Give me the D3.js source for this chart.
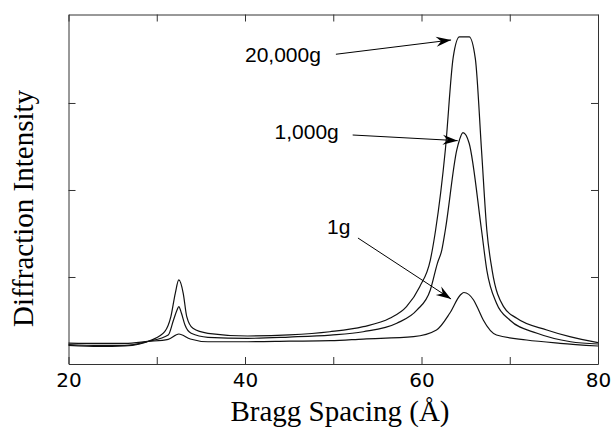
<!DOCTYPE html>
<html>
<head>
<meta charset="utf-8">
<script src="https://cdn.jsdelivr.net/npm/d3@7"></script>
<style>
  body { margin: 0; background: #fff; }
  svg { display: block; }
</style>
</head>
<body>
<div id="chart"></div>
<script>
// Bragg spacing (A) and intensity (arbitrary units)
var spacing20000 = [20, 23.5, 26.4, 29.4, 30.9, 31.6, 32.1, 32.5, 33.0, 33.4, 34.1, 35.8, 40.3, 45, 49.6, 53.4, 56.4, 58.3, 59.8, 61.0, 61.6, 62.7, 63.6, 64.3, 65.4, 66.1, 66.8, 67.4, 68.0, 69.3, 70.8, 74.2, 76.8, 80];
var intensity20000 = [0.213, 0.201, 0.207, 0.276, 0.371, 0.544, 0.813, 0.966, 0.813, 0.544, 0.410, 0.353, 0.322, 0.335, 0.371, 0.429, 0.525, 0.659, 0.889, 1.195, 1.54, 2.46, 3.53, 3.76, 3.76, 3.51, 2.46, 1.54, 1.08, 0.659, 0.525, 0.391, 0.314, 0.245];

var spacing1000 = [20, 23.5, 26.4, 29.0, 31.3, 31.9, 32.3, 32.5, 32.8, 33.2, 33.9, 35.8, 40.3, 45, 49.7, 53.4, 57.2, 59.5, 61.0, 61.8, 62.3, 62.7, 64.0, 64.3, 64.7, 65.4, 66.8, 67.4, 68.5, 70.0, 73.1, 76.9, 80];
var intensity1000 = [0.224, 0.213, 0.213, 0.259, 0.333, 0.506, 0.621, 0.659, 0.583, 0.448, 0.353, 0.307, 0.295, 0.310, 0.333, 0.371, 0.468, 0.621, 0.851, 1.157, 1.31, 1.54, 2.46, 2.575, 2.66, 2.537, 1.54, 1.08, 0.698, 0.506, 0.353, 0.256, 0.230];

var spacing1 = [20, 23.5, 26.4, 29.0, 31.3, 32.5, 33.8, 35.8, 40.3, 45, 49.7, 53.4, 59.1, 61.7, 63.2, 64.4, 64.8, 65.9, 66.3, 67.0, 68.5, 71.9, 75.7, 80];
var intensity1 = [0.241, 0.236, 0.236, 0.259, 0.284, 0.345, 0.287, 0.256, 0.256, 0.262, 0.268, 0.287, 0.314, 0.391, 0.583, 0.793, 0.822, 0.736, 0.659, 0.506, 0.333, 0.276, 0.238, 0.207];

var seriesNames = ["20,000g", "1,000g", "1g"];

var xTicks = [20, 30, 40, 50, 60, 70, 80];
var xTickLabels = [20, 40, 60, 80];
var yTicks = [1, 2, 3];

// label text position and arrow (start -> tip) in data units
var labelX = [40.0, 43.35, 49.3];
var labelY = [3.47, 2.59, 1.49];
var arrowFrom = [[50.3, 3.56], [52.2, 2.632], [52.8, 1.448]];
var arrowTo = [[63.35, 3.724], [64.1, 2.567], [63.35, 0.747]];

var width = 612, height = 427;
var mLeft = 68.5, mRight = 598, mTop = 14.5, mBottom = 364;

var svg = d3.select("#chart")
    .append("svg")
    .attr("width", width)
    .attr("height", height);

var x = d3.scaleLinear().domain([20, 80]).range([mLeft, mRight]);
var y = d3.scaleLinear().domain([0, 4.017]).range([mBottom, mTop]);

var frameColor = "#333";

var xBottom = d3.axisBottom(x)
    .tickValues(xTicks)
    .tickSizeInner(-7)
    .tickSizeOuter(0)
    .tickPadding(9)
    .tickFormat((d) => xTickLabels.indexOf(d) >= 0 ? d : "");
var xTop = d3.axisTop(x).tickValues(xTicks).tickSizeInner(-7).tickSizeOuter(0).tickFormat("");
var yLeft = d3.axisLeft(y).tickValues(yTicks).tickSizeInner(-7).tickSizeOuter(0).tickFormat("");
var yRight = d3.axisRight(y).tickValues(yTicks).tickSizeInner(-7).tickSizeOuter(0).tickFormat("");

var gb = svg.append("g").attr("transform", "translate(0," + mBottom + ")").call(xBottom);
svg.append("g").attr("transform", "translate(0," + mTop + ")").call(xTop);
svg.append("g").attr("transform", "translate(" + mLeft + ",0)").call(yLeft);
svg.append("g").attr("transform", "translate(" + mRight + ",0)").call(yRight);

svg.selectAll(".domain, .tick line").attr("stroke", frameColor).attr("stroke-width", 1);
gb.selectAll("text")
    .attr("font-family", "'DejaVu Sans', sans-serif")
    .attr("font-size", 20)
    .attr("fill", "#000");

// curves
var series = [
    spacing20000.map((d, i) => [d, intensity20000[i]]),
    spacing1000.map((d, i) => [d, intensity1000[i]]),
    spacing1.map((d, i) => [d, intensity1[i]])
];

var line = d3.line()
    .x((d) => x(d[0]))
    .y((d) => y(d[1]))
    .curve(d3.curveMonotoneX);

svg.append("g")
    .selectAll("path")
    .data(series)
    .enter()
    .append("path")
    .attr("d", line)
    .attr("fill", "none")
    .attr("stroke", "#111")
    .attr("stroke-width", 1.2);

// arrowhead
svg.append("defs").append("marker")
    .attr("id", "head")
    .attr("viewBox", "-16 -6 18 12")
    .attr("refX", 0)
    .attr("refY", 0)
    .attr("markerWidth", 18)
    .attr("markerHeight", 12)
    .attr("markerUnits", "userSpaceOnUse")
    .attr("orient", "auto")
    .append("path")
    .attr("d", "M0,0 L-15,-5 L-10,0 L-15,5 Z")
    .attr("fill", "#000");

svg.append("g")
    .selectAll("line")
    .data(seriesNames)
    .enter()
    .append("line")
    .attr("x1", (d, i) => x(arrowFrom[i][0]))
    .attr("y1", (d, i) => y(arrowFrom[i][1]))
    .attr("x2", (d, i) => x(arrowTo[i][0]))
    .attr("y2", (d, i) => y(arrowTo[i][1]))
    .attr("stroke", "#000")
    .attr("stroke-width", 1)
    .attr("marker-end", "url(#head)");

svg.append("g")
    .selectAll("text")
    .data(seriesNames)
    .enter()
    .append("text")
    .attr("x", (d, i) => x(labelX[i]))
    .attr("y", (d, i) => y(labelY[i]))
    .attr("font-family", "'Liberation Sans', Arial, sans-serif")
    .attr("font-size", 21)
    .attr("fill", "#000")
    .text((d) => d);

// axis titles
svg.append("text")
    .attr("x", 340)
    .attr("y", 421)
    .attr("text-anchor", "middle")
    .attr("font-family", "'Liberation Serif', 'Times New Roman', serif")
    .attr("font-size", 29)
    .text("Bragg Spacing (Å)");

svg.append("text")
    .attr("transform", "translate(33,208.5) rotate(-90)")
    .attr("text-anchor", "middle")
    .attr("font-family", "'Liberation Serif', 'Times New Roman', serif")
    .attr("font-size", 29)
    .text("Diffraction Intensity");
</script>
</body>
</html>
